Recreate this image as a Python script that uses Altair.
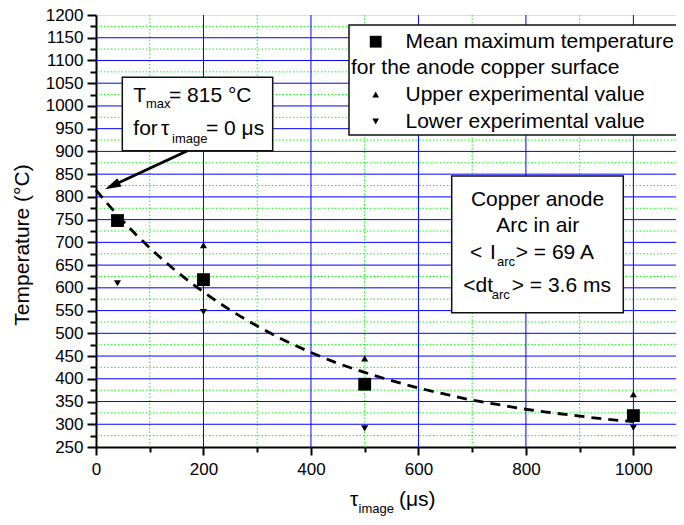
import altair as alt
import pandas as pd

FONT = "Liberation Sans"

# ---- data ----
tau_mean = [40, 200, 500, 1000]
t_mean = [748, 618, 388, 319]
tau_up = [200, 500, 1000]
t_up = [694, 445, 366]
tau_low = [40, 200, 500, 1000]
t_low = [610, 547, 291, 292]

curve_tau = [0, 50, 100, 150, 200, 250, 300, 350, 400, 450, 500,
             550, 600, 650, 700, 750, 800, 850, 900, 950, 1000]
curve_t = [815, 747, 688, 636, 591, 551, 516, 485, 458, 434, 414,
           396, 380, 366, 353, 343, 333, 325, 318, 311, 306]

x_ticks = [0, 100, 200, 300, 400, 500, 600, 700, 800, 900, 1000]
y_ticks = list(range(250, 1201, 25))
grid_blue_x = [200, 400, 600, 800, 1000]
grid_green_x = [100, 300, 500, 700, 900]
grid_blue_y = list(range(300, 1151, 50))
grid_green_y = list(range(275, 1176, 50))

# ---- layout ----
W, H = 580, 432
OX, OY = 96, 15  # page position of the plot origin

xs = alt.Scale(domain=[0, 1079.3], nice=False, zero=False)
ys = alt.Scale(domain=[250, 1200], nice=False, zero=False)

xaxis = alt.Axis(
    values=x_ticks, title=None, grid=False, format="d",
    domainColor="black", domainWidth=2, tickColor="black", tickWidth=2,
    tickSize={"condition": {"test": "datum.value % 200 === 0", "value": 8}, "value": 5},
    labelExpr="datum.value % 200 === 0 ? datum.label : ''",
    labelFont=FONT, labelFontSize=17, labelColor="black", labelPadding=6,
    labelFlush=False, labelOverlap=False,
)
yaxis = alt.Axis(
    values=y_ticks, title=None, grid=False, format="d",
    domainColor="black", domainWidth=2, tickColor="black", tickWidth=2,
    tickSize={"condition": {"test": "datum.value % 50 === 0", "value": 9}, "value": 6},
    labelExpr="datum.value % 50 === 0 ? datum.label : ''",
    labelFont=FONT, labelFontSize=17, labelColor="black", labelPadding=4,
    labelFlush=False, labelOverlap=False,
)


def X(f):
    return alt.X(f, type="quantitative", scale=xs, axis=xaxis)


def Y(f):
    return alt.Y(f, type="quantitative", scale=ys, axis=yaxis)


one = pd.DataFrame({"k": [0]})


def txt(s, px, py, size=21, align="left", angle=0):
    return alt.Chart(one).mark_text(
        text=s, align=align, baseline="alphabetic", font=FONT,
        fontSize=size, color="black", angle=angle
    ).encode(x=alt.value(px - OX), y=alt.value(py - OY))


def box(x1, y1, x2, y2):
    return alt.Chart(one).mark_rect(
        fill="white", stroke="#111", strokeWidth=1.5
    ).encode(x=alt.value(x1 - OX), x2=alt.value(x2 - OX),
             y=alt.value(y1 - OY), y2=alt.value(y2 - OY))


def sym(shape, px, py, size):
    return alt.Chart(one).mark_point(
        shape=shape, filled=True, color="black", opacity=1, size=size
    ).encode(x=alt.value(px - OX), y=alt.value(py - OY))


# ---- grid ----
g_green_h = alt.Chart(pd.DataFrame({"t": grid_green_y})).mark_rule(
    color="#00ff00", strokeWidth=1, strokeDash=[1.5, 2]).encode(y=Y("t"))
g_green_v = alt.Chart(pd.DataFrame({"x": grid_green_x})).mark_rule(
    color="#00ff00", strokeWidth=1, strokeDash=[1.5, 2]).encode(x=X("x"))
g_blue_h = alt.Chart(pd.DataFrame({"t": grid_blue_y})).mark_rule(
    color="#0000ff", strokeWidth=1).encode(y=Y("t"))
g_blue_v = alt.Chart(pd.DataFrame({"x": grid_blue_x})).mark_rule(
    color="#0000ff", strokeWidth=1).encode(x=X("x"))

# ---- data marks ----
curve = alt.Chart(pd.DataFrame({"x": curve_tau, "t": curve_t})).mark_line(
    color="black", strokeWidth=2.8, strokeDash=[10, 7], interpolate="monotone"
).encode(x=X("x"), y=Y("t"))

ups = alt.Chart(pd.DataFrame({"x": tau_up, "t": t_up})).mark_point(
    shape="triangle-up", filled=True, color="black", opacity=1, size=50
).encode(x=X("x"), y=Y("t"))
lows = alt.Chart(pd.DataFrame({"x": tau_low, "t": t_low})).mark_point(
    shape="triangle-down", filled=True, color="black", opacity=1, size=50
).encode(x=X("x"), y=Y("t"))
means = alt.Chart(pd.DataFrame({"x": tau_mean, "t": t_mean})).mark_point(
    shape="square", filled=True, color="black", opacity=1, size=165
).encode(x=X("x"), y=Y("t"))

# ---- legend box ----
legend = [
    box(349, 25, 720, 135),
    sym("square", 375.7, 41.7, 140),
    txt("Mean maximum temperature", 405.5, 48.3),
    txt("for the anode copper surface", 351, 74),
    sym("triangle-up", 375.7, 94.5, 45),
    txt("Upper experimental value", 405.5, 100.5),
    sym("triangle-down", 375.7, 121.5, 45),
    txt("Lower experimental value", 405.5, 127.5),
]

# ---- Tmax annotation with arrow ----
tmax = [
    box(122.3, 77.3, 272.7, 150.7),
    txt("T", 133.3, 101.7),
    txt("max", 146, 108.3, size=13),
    txt("= 815 °C", 169, 101.7),
    txt("for", 133.3, 135),
    txt("τ", 161, 135),
    txt("image", 172, 143.3, size=13),
    txt("= 0 μs", 206, 135),
    alt.Chart(one).mark_rule(color="black", strokeWidth=3).encode(
        x=alt.value(187 - OX), y=alt.value(151 - OY),
        x2=alt.value(117 - OX), y2=alt.value(183.5 - OY)),
    alt.Chart(one).mark_point(
        shape="M0,0L0.58,2L-0.58,2Z", filled=True, color="black", opacity=1,
        size=256, angle=244.3
    ).encode(x=alt.value(105 - OX), y=alt.value(189.3 - OY)),
]

# ---- Copper anode box ----
info = [
    box(451.7, 176, 623.3, 312.7),
    txt("Copper anode", 537.5, 206, align="center"),
    txt("Arc in air", 537.7, 231.7, align="center"),
    txt("<", 470, 259.3),
    txt("I", 490, 259.3),
    txt("arc", 497, 266, size=13),
    txt("> = 69 A", 515.7, 259.3),
    txt("<dt", 463.3, 291.7),
    txt("arc", 491.7, 298.5, size=13),
    txt("> = 3.6 ms", 511.7, 291.7),
]

# ---- axis titles ----
titles = [
    txt("Temperature (°C)", 28.5, 245, align="center", angle=270),
    txt("τ", 350, 506),
    txt("image", 358.5, 512.5, size=13),
    txt("(μs)", 399, 506),
]

layers = [g_green_h, g_green_v, g_blue_h, g_blue_v, curve, lows, ups, means]
layers += legend + tmax + info + titles

chart = alt.layer(*layers).properties(
    width=W, height=H,
    autosize=alt.AutoSizeParams(type="none"),
    padding={"left": OX - 8, "top": OY - 8, "right": 0, "bottom": 70},
).configure_view(stroke=None).configure(background="white")

chart.save("out.html", embed_options={"renderer": "svg", "actions": False})
